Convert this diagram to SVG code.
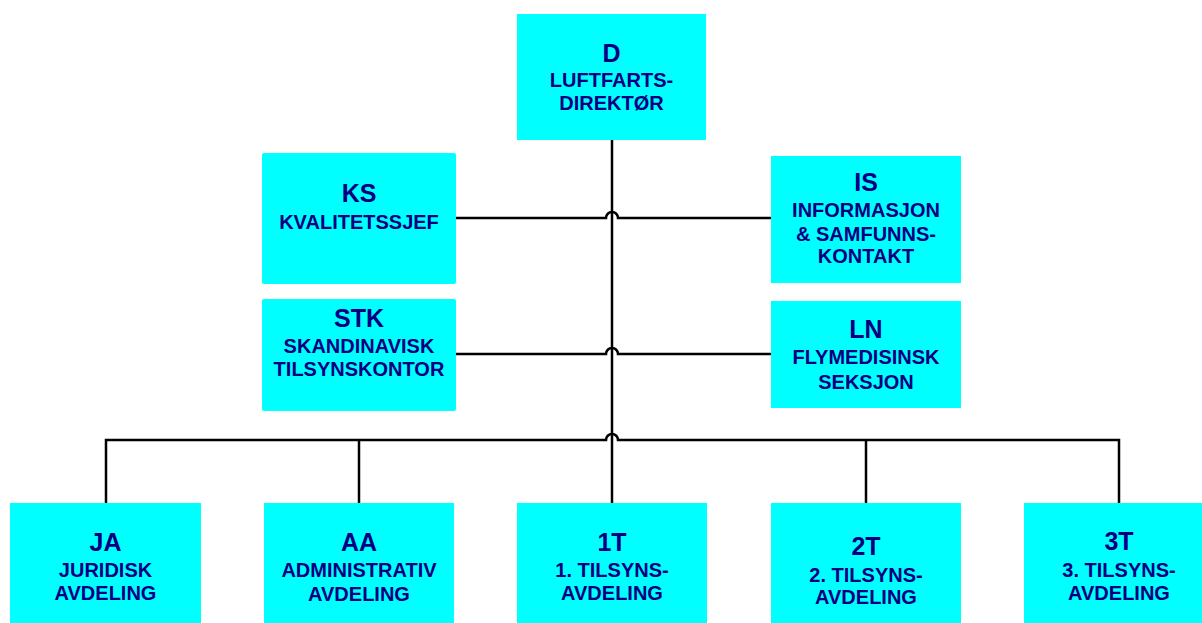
<svg xmlns="http://www.w3.org/2000/svg" width="1202" height="623" viewBox="0 0 1202 623">
<style>
.box{fill:#00FFFF;stroke:none}
.t{font-family:"Liberation Sans",Arial,sans-serif;font-weight:bold;fill:#000080;text-anchor:middle}
.h{font-size:25px}
.s{font-size:20px}
.c{fill:none;stroke:#000;stroke-width:2.5}
</style>
<rect width="1202" height="623" fill="#fff"/>
<g id="connectors">
<path class="c" d="M612,140 V503"/>
<path class="c" d="M456,218 H606 A6,6 0 0 1 618,218 H771"/>
<path class="c" d="M456,354 H606 A6,6 0 0 1 618,354 H771"/>
<path class="c" d="M106,503 V440 H606 A6,6 0 0 1 618,440 H1119 V503"/>
<path class="c" d="M359,440 V503"/>
<path class="c" d="M866,440 V503"/>
</g>
<g id="D">
<rect class="box" x="517" y="14" width="189" height="126"/>
<text class="t h" x="611.5" y="62">D</text>
<text class="t s" x="611.5" y="87">LUFTFARTS-</text>
<text class="t s" x="611.5" y="110">DIREKTØR</text>
</g>
<g id="KS">
<rect class="box" x="262" y="153" width="194" height="131" rx="2"/>
<text class="t h" x="359" y="202">KS</text>
<text class="t s" x="359" y="229">KVALITETSSJEF</text>
</g>
<g id="IS">
<rect class="box" x="771" y="156" width="190" height="127"/>
<text class="t h" x="866" y="191">IS</text>
<text class="t s" x="866" y="217">INFORMASJON</text>
<text class="t s" x="866" y="241">&amp; SAMFUNNS-</text>
<text class="t s" x="866" y="263">KONTAKT</text>
</g>
<g id="STK">
<rect class="box" x="262" y="299" width="194" height="112" rx="2"/>
<text class="t h" x="359" y="327">STK</text>
<text class="t s" x="359" y="353">SKANDINAVISK</text>
<text class="t s" x="359" y="376">TILSYNSKONTOR</text>
</g>
<g id="LN">
<rect class="box" x="771" y="301" width="190" height="107"/>
<text class="t h" x="866" y="338">LN</text>
<text class="t s" x="866" y="364">FLYMEDISINSK</text>
<text class="t s" x="866" y="389">SEKSJON</text>
</g>
<g id="JA">
<rect class="box" x="10" y="503" width="191" height="120"/>
<text class="t h" x="105.5" y="551">JA</text>
<text class="t s" x="105.5" y="577">JURIDISK</text>
<text class="t s" x="105.5" y="600">AVDELING</text>
</g>
<g id="AA">
<rect class="box" x="264" y="503" width="190" height="120"/>
<text class="t h" x="359" y="551">AA</text>
<text class="t s" x="359" y="577">ADMINISTRATIV</text>
<text class="t s" x="359" y="601">AVDELING</text>
</g>
<g id="T1">
<rect class="box" x="517" y="503" width="190" height="120"/>
<text class="t h" x="612" y="551">1T</text>
<text class="t s" x="612" y="577">1. TILSYNS-</text>
<text class="t s" x="612" y="600">AVDELING</text>
</g>
<g id="T2">
<rect class="box" x="771" y="503" width="190" height="120"/>
<text class="t h" x="866" y="555">2T</text>
<text class="t s" x="866" y="582">2. TILSYNS-</text>
<text class="t s" x="866" y="604">AVDELING</text>
</g>
<g id="T3">
<rect class="box" x="1024" y="503" width="190" height="120"/>
<text class="t h" x="1119" y="550">3T</text>
<text class="t s" x="1119" y="577">3. TILSYNS-</text>
<text class="t s" x="1119" y="600">AVDELING</text>
</g>
</svg>
